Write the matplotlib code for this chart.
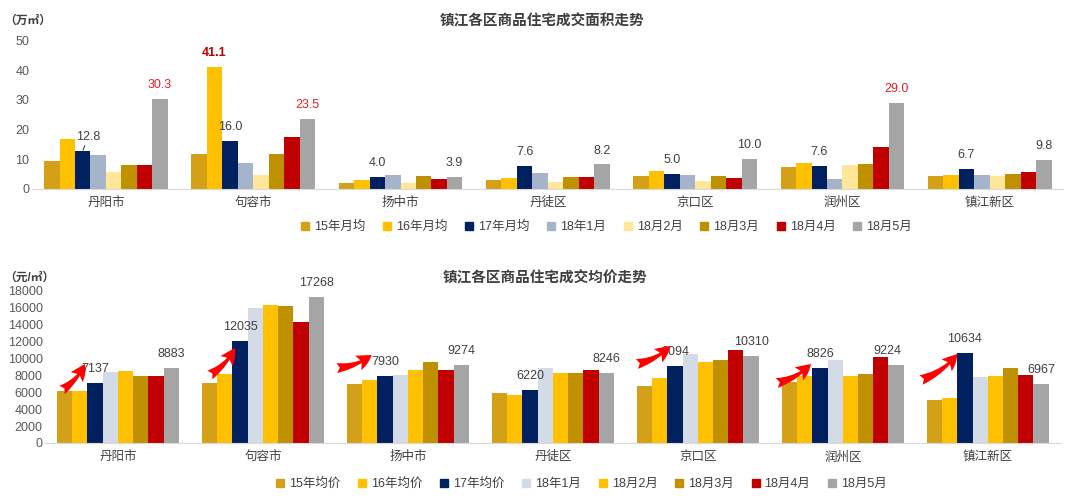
import numpy as np
import matplotlib
matplotlib.use("Agg")
import matplotlib.pyplot as plt
from matplotlib.lines import Line2D

plt.rcParams["font.family"] = ["Liberation Sans", "Noto Sans CJK SC", "DejaVu Sans"]

districts = ["丹阳市", "句容市", "扬中市", "丹徒区", "京口区", "润州区", "镇江新区"]

# 成交面积 (万㎡)
area_labels = ["15年月均", "16年月均", "17年月均", "18年1月", "18月2月", "18月3月", "18月4月", "18月5月"]
a15 = [9.4, 11.7, 1.9, 2.9, 4.3, 7.3, 4.3]
a16 = [16.8, 41.1, 2.9, 3.6, 6.0, 8.7, 4.6]
a17 = [12.8, 16.0, 4.0, 7.6, 5.0, 7.6, 6.7]
a1801 = [11.4, 8.7, 4.6, 5.3, 4.7, 3.3, 4.6]
a1802 = [5.6, 4.6, 1.8, 2.3, 2.6, 8.0, 4.3]
a1803 = [8.0, 11.7, 4.3, 4.0, 4.3, 8.3, 5.0]
a1804 = [8.0, 17.5, 3.3, 4.0, 3.6, 14.1, 5.6]
a1805 = [30.3, 23.5, 3.9, 8.2, 10.0, 29.0, 9.8]

# 成交均价 (元/㎡)
price_labels = ["15年均价", "16年均价", "17年均价", "18年1月", "18月2月", "18月3月", "18月4月", "18月5月"]
p15 = [6100, 7100, 7000, 5900, 6740, 7200, 5080]
p16 = [6100, 8150, 7450, 5670, 7680, 7900, 5320]
p17 = [7137, 12035, 7930, 6220, 9094, 8826, 10634]
p1801 = [8400, 16000, 8000, 8860, 10500, 9800, 7800]
p1802 = [8500, 16300, 8630, 8270, 9570, 7900, 7900]
p1803 = [7900, 16200, 9570, 8270, 9800, 8150, 8860]
p1804 = [7900, 14300, 8630, 8630, 11000, 10170, 8040]
p1805 = [8883, 17268, 9274, 8246, 10310, 9224, 6967]

area_colors = ["#D4A017", "#FFC000", "#002060", "#A5B4CA", "#FFE699", "#BF9000", "#C00000", "#A5A5A5"]
price_colors = ["#D4A017", "#FFC000", "#002060", "#D3DBE6", "#FFC000", "#BF9000", "#C00000", "#A5A5A5"]

TXT = "#404040"
RED = "#E81E25"

fig = plt.figure(figsize=(10.9, 4.96), dpi=100)
ax1 = fig.add_axes([0.0296, 0.6196, 0.946, 0.298])
ax2 = fig.add_axes([0.0417, 0.1069, 0.931, 0.307])

x = np.arange(len(districts))
w = 0.105


def draw_bars(ax, series, colors):
    for i, (vals, c) in enumerate(zip(series, colors)):
        ax.bar(x + (i - 3.5) * w, vals, w, color=c, linewidth=0, zorder=2)


def style_axis(ax, ymax, yticks):
    ax.set_xlim(-0.5, len(districts) - 0.5)
    ax.set_ylim(0, ymax)
    ax.set_yticks(yticks)
    ax.set_xticks(x)
    ax.set_xticklabels(districts, fontsize=9, color=TXT)
    for s in ["top", "right", "left"]:
        ax.spines[s].set_visible(False)
    ax.spines["bottom"].set_color("#D9D9D9")
    ax.tick_params(axis="both", length=0)
    ax.tick_params(axis="x", pad=6)
    ax.tick_params(axis="y", labelsize=9, labelcolor="#595959", pad=2)


def label(ax, xpos, val, text, color=TXT, weight="normal", dx=0):
    ax.annotate(text, (xpos, val), xytext=(dx, 10), textcoords="offset points",
                ha="center", va="center", fontsize=9, color=color, fontweight=weight, zorder=5)


# ---- top chart ----
area_series = [a15, a16, a17, a1801, a1802, a1803, a1804, a1805]
draw_bars(ax1, area_series, area_colors)
style_axis(ax1, 50, range(0, 51, 10))

for j in range(len(districts)):
    x17 = x[j] + (2 - 3.5) * w
    x05 = x[j] + (7 - 3.5) * w
    if j == 0:
        ax1.annotate("%.1f" % a17[j], (x17, a17[j]), xytext=(4, 10), textcoords="offset points",
                     ha="center", va="center", fontsize=9, color=TXT, zorder=5,
                     arrowprops=dict(arrowstyle="-", color=TXT, lw=0.8, shrinkA=6, shrinkB=0.5))
    else:
        label(ax1, x17, a17[j], "%.1f" % a17[j])
    big = a1805[j] > 20
    label(ax1, x05, a1805[j], "%.1f" % a1805[j], color=RED if big else TXT)
# 句容市 16年月均
label(ax1, x[1] + (1 - 3.5) * w, a16[1], "%.1f" % a16[1], color="#C00000", weight="bold")

# ---- bottom chart ----
price_series = [p15, p16, p17, p1801, p1802, p1803, p1804, p1805]
draw_bars(ax2, price_series, price_colors)
style_axis(ax2, 18000, range(0, 18001, 2000))

for j in range(len(districts)):
    x17 = x[j] + (2 - 3.5) * w
    x05 = x[j] + (7 - 3.5) * w
    label(ax2, x17, p17[j], str(p17[j]))
    label(ax2, x05, p1805[j], str(p1805[j]), dx=-6 if j == 5 else 0)

# red arrows pointing at 17年均价: district index, tail offset, tail y, head offset, head y
arrows = [
    (0, -0.386, 6260, -0.228, 9340),
    (1, -0.366, 8040, -0.193, 11230),
    (2, -0.49, 8865, -0.25, 10400),
    (4, -0.42, 9340, -0.19, 11470),
    (5, -0.455, 7090, -0.22, 9340),
    (6, -0.46, 7450, -0.21, 10520),
]
for j, tx, ty, hx, hy in arrows:
    ax2.annotate("", xy=(x[j] + hx, hy), xytext=(x[j] + tx, ty), zorder=6,
                 arrowprops=dict(arrowstyle="fancy,head_length=0.7,head_width=0.7,tail_width=0.45",
                                 color="#FF0000", lw=0, mutation_scale=16,
                                 shrinkA=0, shrinkB=0, connectionstyle="arc3,rad=0.15"))

# titles and units
fig.text(0.497, 0.958, "镇江各区商品住宅成交面积走势", ha="center", va="center",
         fontsize=10.5, fontweight="bold", color=TXT)
fig.text(0.5, 0.44, "镇江各区商品住宅成交均价走势", ha="center", va="center",
         fontsize=10.5, fontweight="bold", color=TXT)
fig.text(0.004, 0.958, "（万㎡）", ha="left", va="center", fontsize=8.5, color=TXT, fontweight="bold")
fig.text(0.004, 0.44, "（元/㎡）", ha="left", va="center", fontsize=8.5, color=TXT, fontweight="bold")


def legend(labels, colors, cx, cy):
    handles = [Line2D([], [], marker="s", linestyle="none", markersize=6, color=c) for c in colors]
    fig.legend(handles, labels, loc="center", bbox_to_anchor=(cx, cy), ncol=8, frameon=False,
               fontsize=9, handlelength=0.8, handletextpad=0.3, columnspacing=1.35, labelcolor=TXT)


legend(area_labels, area_colors, 0.556, 0.542)
legend(price_labels, price_colors, 0.533, 0.024)

fig.savefig("out.png", dpi=100, facecolor="white")
